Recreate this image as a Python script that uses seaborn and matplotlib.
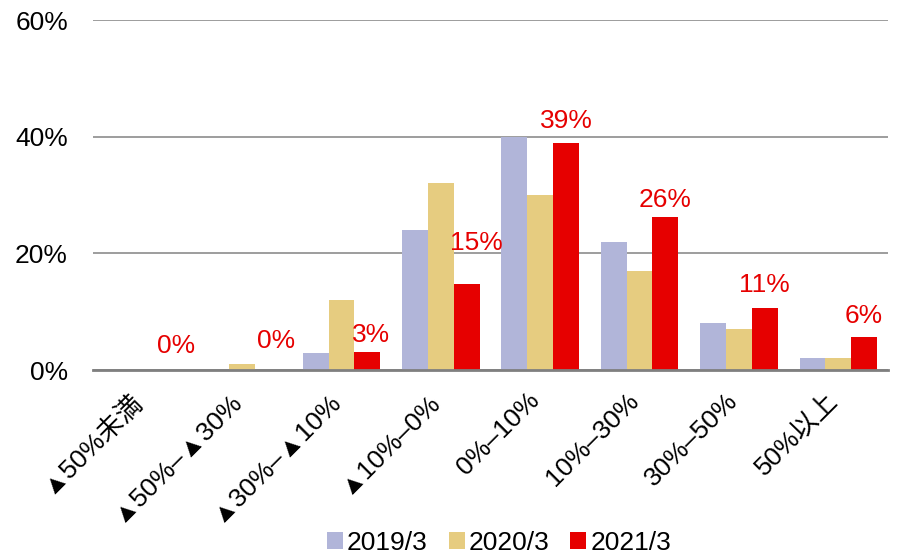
import numpy as np
import pandas as pd
import seaborn as sns
import matplotlib
matplotlib.use("Agg")
import matplotlib.pyplot as plt
import matplotlib.transforms as mtrans
from matplotlib.patches import Patch

# Distribution data (% of companies by change range)
categories = ["▲50%未満", "▲50%–▲30%", "▲30%–▲10%", "▲10%–0%",
              "0%–10%", "10%–30%", "30%–50%", "50%以上"]
years = ["2019/3", "2020/3", "2021/3"]
vals_2019 = [0, 0, 3, 24, 40, 22, 8, 2]
vals_2020 = [0, 1, 12, 32, 30, 17, 7, 2]
vals_2021 = [0, 0, 3.1, 14.7, 39.0, 26.2, 10.6, 5.7]
yticks = [0, 20, 40, 60]

colors = ["#B1B5D9", "#E6CC80", "#E60000"]

sns.set_theme(style="white")
plt.rcParams["font.family"] = ["Liberation Sans", "DejaVu Sans", "Noto Sans CJK JP"]
plt.rcParams["text.color"] = "black"
plt.rcParams["xtick.color"] = "black"
plt.rcParams["ytick.color"] = "black"

df = pd.DataFrame({
    "cat": categories * 3,
    "year": [y for y in years for _ in categories],
    "val": vals_2019 + vals_2020 + vals_2021,
})

fig = plt.figure(figsize=(9.01, 5.57), dpi=100)
ax = fig.add_axes([93 / 901, 1 - 370 / 557, (888 - 93) / 901, (370 - 20) / 557])

sns.barplot(data=df, x="cat", y="val", hue="year", order=categories,
            hue_order=years, palette=colors, width=0.78, saturation=1,
            errorbar=None, linewidth=0, legend=False, ax=ax)

ax.set_ylim(0, 60)
ax.set_xlim(-0.5, len(categories) - 0.5)
ax.set_yticks(yticks)
ax.set_yticklabels([f"{t}%" for t in yticks], fontsize=19, color="black")
ax.yaxis.grid(True, color="#8C8C8C", linewidth=1.2)
ax.set_axisbelow(True)
ax.tick_params(axis="y", length=0, pad=18)
ax.tick_params(axis="x", length=0, pad=13)
ax.set_xlabel("")
ax.set_ylabel("")
for s in ["left", "right", "top"]:
    ax.spines[s].set_visible(False)
ax.spines["bottom"].set_color("#7F7F7F")
ax.spines["bottom"].set_linewidth(2)

shift = mtrans.ScaledTranslation(4 / 100, 0, fig.dpi_scale_trans)
ax.set_xticks(range(len(categories)))
ax.set_xticklabels(categories, rotation=45, ha="right", fontsize=19, color="black")
for lbl in ax.get_xticklabels():
    lbl.set_transform(lbl.get_transform() + shift)

# Value labels above the 2021/3 bars
dx_px = [8, 8, 3.5, 10, 0, 0, 0, 0]
dy_px = [17, 22, 10, 34, 15, 10, 16, 14]
bars_2021 = ax.containers[2]
for bar, v, dx, dy in zip(bars_2021, vals_2021, dx_px, dy_px):
    cx = bar.get_x() + bar.get_width() / 2
    ax.annotate(f"{round(v):d}%", (cx, v), xytext=(dx / 1.389, dy / 1.389),
                textcoords="offset points", ha="center", va="baseline",
                color="#E60000", fontsize=19, annotation_clip=False)

handles = [Patch(facecolor=c, edgecolor="none") for c in colors]
fig.legend(handles, years, loc="center", bbox_to_anchor=(499 / 901, 1 - 543 / 557),
           ncol=3, frameon=False, fontsize=19, handlelength=0.6, handleheight=0.6,
           handletextpad=0.15, columnspacing=0.8, labelcolor="black")

fig.savefig("out.png", dpi=100)
